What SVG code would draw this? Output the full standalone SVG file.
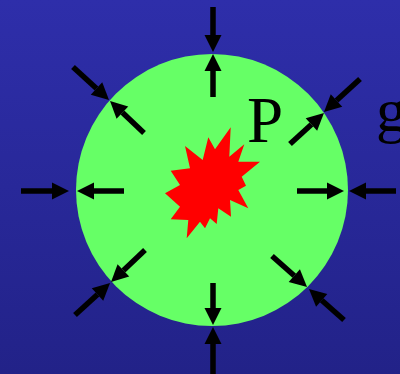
<svg xmlns="http://www.w3.org/2000/svg" width="400" height="374" viewBox="0 0 400 374">
  <defs>
    <linearGradient id="bg" x1="0" y1="0" x2="0" y2="1">
      <stop offset="0" stop-color="#2E2EAA"/>
      <stop offset="1" stop-color="#222288"/>
    </linearGradient>
    <marker id="head" viewBox="0 -9 17 18" markerWidth="17" markerHeight="18" refX="0" refY="0" orient="auto" markerUnits="userSpaceOnUse" overflow="visible">
      <path d="M0,-8.5 L17,0 L0,8.5 Z" fill="#000"/>
    </marker>
  </defs>
  <style>
    .arrow { stroke: #000; stroke-width: 5.5; fill: none; stroke-linecap: butt; marker-end: url(#head); }
    .label { font-family: "Liberation Serif", "Times New Roman", serif; fill: #000; }
  </style>
  <rect id="background" x="0" y="0" width="400" height="374" fill="url(#bg)"/>
  <g id="sphere">
    <circle cx="212" cy="190" r="136" fill="#66FF66"/>
  </g>
  <g id="burst">
    <polygon fill="#FF0000" points="230.7,127.3 229.3,156.7 244.3,144.3 238.3,161.7 260,161.7 241.7,176.7 246,185.7 238.3,190 248.3,208.3 230,200 231,216.7 218.3,208.3 216.7,224 210,218.3 205,228.3 200,221.7 186.7,238.3 188.3,220 170.7,219.3 180,206.7 165,193.3 180,185 170.7,170.7 190,168.3 185,146 202.7,160 208.3,137.3 215,149.3"/>
  </g>
  <g id="label-P">
    <text class="label" x="247" y="141.5" font-size="65">P</text>
  </g>
  <g id="label-g">
    <text class="label" x="376" y="131" font-size="62">g</text>
  </g>
  <g id="connectors">
    <line class="arrow" x1="213" y1="7" x2="213" y2="35"/>
    <line class="arrow" x1="213" y1="97" x2="213" y2="71"/>
    <line class="arrow" x1="21" y1="191" x2="52" y2="191"/>
    <line class="arrow" x1="124" y1="191" x2="94" y2="191"/>
    <line class="arrow" x1="297" y1="191" x2="327" y2="191"/>
    <line class="arrow" x1="396" y1="191" x2="366" y2="191"/>
    <line class="arrow" x1="213" y1="283" x2="213" y2="308"/>
    <line class="arrow" x1="213" y1="374" x2="213" y2="344"/>
    <line class="arrow" x1="73" y1="67" x2="96.5" y2="88.5"/>
    <line class="arrow" x1="144" y1="133" x2="122.4" y2="112.6"/>
    <line class="arrow" x1="360" y1="79" x2="336.5" y2="100.5"/>
    <line class="arrow" x1="290" y1="144" x2="311.4" y2="124.5"/>
    <line class="arrow" x1="145" y1="250" x2="123.4" y2="270.4"/>
    <line class="arrow" x1="75" y1="315" x2="97.5" y2="294.5"/>
    <line class="arrow" x1="272" y1="256" x2="294.3" y2="275.7"/>
    <line class="arrow" x1="344" y1="320" x2="321.7" y2="300.3"/>
  </g>
</svg>
